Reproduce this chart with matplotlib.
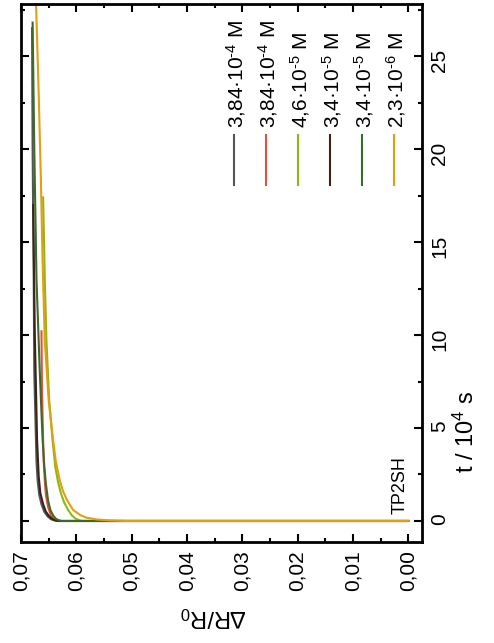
import numpy as np
import matplotlib
matplotlib.use('Agg')
import matplotlib.pyplot as plt
from matplotlib.ticker import MultipleLocator, FuncFormatter

plt.rcParams['font.family'] = ['Liberation Sans', 'DejaVu Sans']
plt.rcParams['mathtext.fontset'] = 'custom'
plt.rcParams['mathtext.rm'] = 'Liberation Sans'
plt.rcParams['mathtext.it'] = 'Liberation Sans:italic'

# Data: t in 10^4 s, dR = delta R / R0
labels = ['3,84·10$^{\\text{-}4}$ M', '3,84·10$^{\\text{-}4}$ M', '4,6·10$^{\\text{-}5}$ M',
          '3,4·10$^{\\text{-}5}$ M', '3,4·10$^{\\text{-}5}$ M', '2,3·10$^{\\text{-}6}$ M']
colors = ['#555555', '#e8503c', '#8db814', '#3a2418', '#3c6a2a', '#e0a010']

t_gray = [0, 0, 0.03, 0.1, 0.25, 0.5, 0.9, 1.4, 2.2, 3.2, 4.4, 8, 13, 20, 26.5]
dr_gray = [0, 0.0633, 0.0640, 0.0646, 0.0652, 0.0658, 0.0663, 0.0667, 0.0670, 0.0672,
           0.0673, 0.0676, 0.0677, 0.0679, 0.0680]

t_red = [0, 0, 0.03, 0.1, 0.3, 0.75, 1.4, 2.2, 3.2, 4.35, 7.0, 10.2]
dr_red = [0, 0.0630, 0.0636, 0.0641, 0.0646, 0.0651, 0.0655, 0.0657, 0.0659, 0.0660,
          0.0662, 0.0663]

t_ygreen = [0, 0, 0.03, 0.12, 0.3, 0.6, 1.0, 1.5, 2.1, 2.9, 4.35, 6.5, 9.7, 13, 17.4]
dr_ygreen = [0, 0.0590, 0.0594, 0.0601, 0.0608, 0.0615, 0.0622, 0.0628, 0.0633, 0.0638,
             0.0643, 0.0649, 0.0654, 0.0657, 0.0660]

t_brown = [0, 0, 0.03, 0.1, 0.25, 0.5, 0.9, 1.5, 2.4, 4.4, 10, 17]
dr_brown = [0, 0.0631, 0.0637, 0.0643, 0.0649, 0.0655, 0.0660, 0.0665, 0.0668, 0.0671,
            0.0675, 0.0678]

t_dgreen = [0, 0, 0.03, 0.12, 0.3, 0.6, 1.1, 2.0, 3.0, 4.4, 8, 13, 20, 26.8]
dr_dgreen = [0, 0.0626, 0.0631, 0.0637, 0.0642, 0.0647, 0.0651, 0.0655, 0.0658, 0.0661,
             0.0666, 0.0672, 0.0676, 0.0679]

t_orange = [0, 0, 0.03, 0.08, 0.18, 0.32, 0.6, 1.13, 1.6, 2.2, 3.2, 4.35, 6.5, 9.7, 14,
            18.3, 23, 28.0]
dr_orange = [0, 0.0509, 0.0540, 0.0563, 0.0582, 0.0593, 0.0606, 0.0617, 0.0624, 0.0630,
             0.0637, 0.0642, 0.0650, 0.0657, 0.0661, 0.0664, 0.0668, 0.0673]

series_t = [t_gray, t_red, t_ygreen, t_brown, t_dgreen, t_orange]
series_dr = [dr_gray, dr_red, dr_ygreen, dr_brown, dr_dgreen, dr_orange]

fig = plt.figure(figsize=(4.94, 6.43), dpi=100)
ax = fig.add_axes([21 / 494, 1 - 542 / 643, 401 / 494, 538 / 643])

# chart is drawn rotated: dR on the horizontal axis, t on the vertical axis
for t, dr, c in zip(series_t, series_dr, colors):
    ax.plot(dr, t, color=c, lw=1.5)

ax.set_xlim(0.07, -0.0025)
ax.set_ylim(-1.13, 27.8)
ax.xaxis.set_major_locator(MultipleLocator(0.01))
ax.xaxis.set_minor_locator(MultipleLocator(0.005))
ax.yaxis.set_major_locator(MultipleLocator(5))
ax.yaxis.set_minor_locator(MultipleLocator(2.5))
ax.xaxis.set_major_formatter(FuncFormatter(lambda v, p: f'{abs(v):.2f}'.replace('.', ',')))
ax.yaxis.set_major_formatter(FuncFormatter(lambda v, p: f'{v:g}'))

ax.tick_params(which='both', direction='in', top=True, bottom=True, left=True, right=True,
               labelleft=False, labelright=True, width=1.5)
ax.tick_params(which='major', length=6, labelsize=15, pad=6)
ax.tick_params(which='minor', length=3)
ax.tick_params(axis='x', labelrotation=90)
ax.tick_params(axis='y', labelrotation=90)
for s in ax.spines.values():
    s.set_linewidth(2)

ax.set_xlabel('∆R/R$_0$', fontsize=17, rotation=180)
ax.xaxis.set_label_coords(0.48, -0.115)
ax.yaxis.set_label_position('right')
ax.set_ylabel('t / 10$^4$ s', fontsize=17, rotation=90)
ax.yaxis.set_label_coords(1.078, 0.205)

# legend drawn as vertical entries
for i, (lab, c) in enumerate(zip(labels, colors)):
    x = (234 + 32 * i - 21) / 401
    ax.plot([x, x], [0.664, 0.757], color=c, lw=1.5, transform=ax.transAxes)
    ax.text(x, 0.770, lab, rotation=90, rotation_mode='anchor', ha='left',
            va='center_baseline', fontsize=15, transform=ax.transAxes)

ax.text((398 - 21) / 401, (542 - 514) / 538, 'TP2SH', rotation=90, rotation_mode='anchor',
        ha='left', va='center_baseline', fontsize=13, transform=ax.transAxes)

fig.savefig('out.png', dpi=100)
